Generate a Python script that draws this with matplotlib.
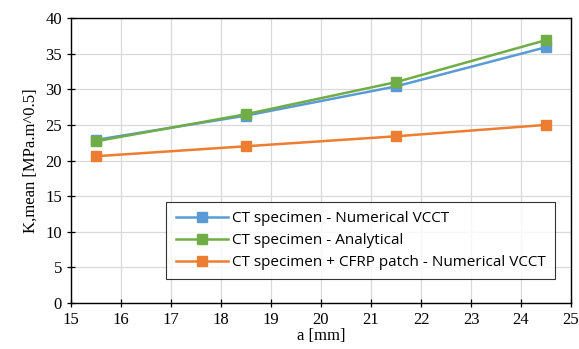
import matplotlib
matplotlib.use("Agg")
import matplotlib.pyplot as plt

a_mm = [15.5, 18.5, 21.5, 24.5]
k_numerical = [22.9, 26.3, 30.4, 35.9]
k_analytical = [22.7, 26.5, 31.0, 36.9]
k_patch = [20.6, 22.0, 23.4, 25.0]

labels = ["CT specimen - Numerical VCCT",
          "CT specimen - Analytical",
          "CT specimen + CFRP patch - Numerical VCCT"]
colors = ["#5b9bd5", "#70ad47", "#ed7d31"]

fig = plt.figure(figsize=(5.79, 3.49), dpi=100)
ax = fig.add_axes([0.1226, 0.1318, 0.8636, 0.8166])

for ys, lab, c in zip([k_numerical, k_analytical, k_patch], labels, colors):
    ax.plot(a_mm, ys, color=c, lw=1.8, marker="s", ms=6.5, label=lab)

ax.set_xlim(15, 25)
ax.set_ylim(0, 40)
ax.set_xticks(range(15, 26))
ax.set_yticks(range(0, 41, 5))
ax.grid(True, color="#d9d9d9", lw=0.9)
ax.set_axisbelow(True)
for s in ax.spines.values():
    s.set_linewidth(1.0)
    s.set_color("black")
ax.tick_params(direction="inout", length=6, width=0.9, labelsize=12)
for lbl in ax.get_xticklabels() + ax.get_yticklabels():
    lbl.set_family("Liberation Serif")
ax.set_xlabel("a [mm]", family="Liberation Serif", fontsize=12, labelpad=0)
ax.set_ylabel("K,mean [MPa.m^0.5]", family="Liberation Serif", fontsize=12, labelpad=5)

# legend box sits in the lower right, flush to its anchor
leg = ax.legend(loc="lower right", bbox_to_anchor=(0.968, 0.084),
                borderaxespad=0,
                prop={"family": "Open Sans", "size": 11}, frameon=True,
                fancybox=False, edgecolor="black", handlelength=3.4,
                borderpad=0.6, labelspacing=0.45, handletextpad=0.3)
leg.get_frame().set_linewidth(0.8)

fig.savefig("out.png", dpi=100)
